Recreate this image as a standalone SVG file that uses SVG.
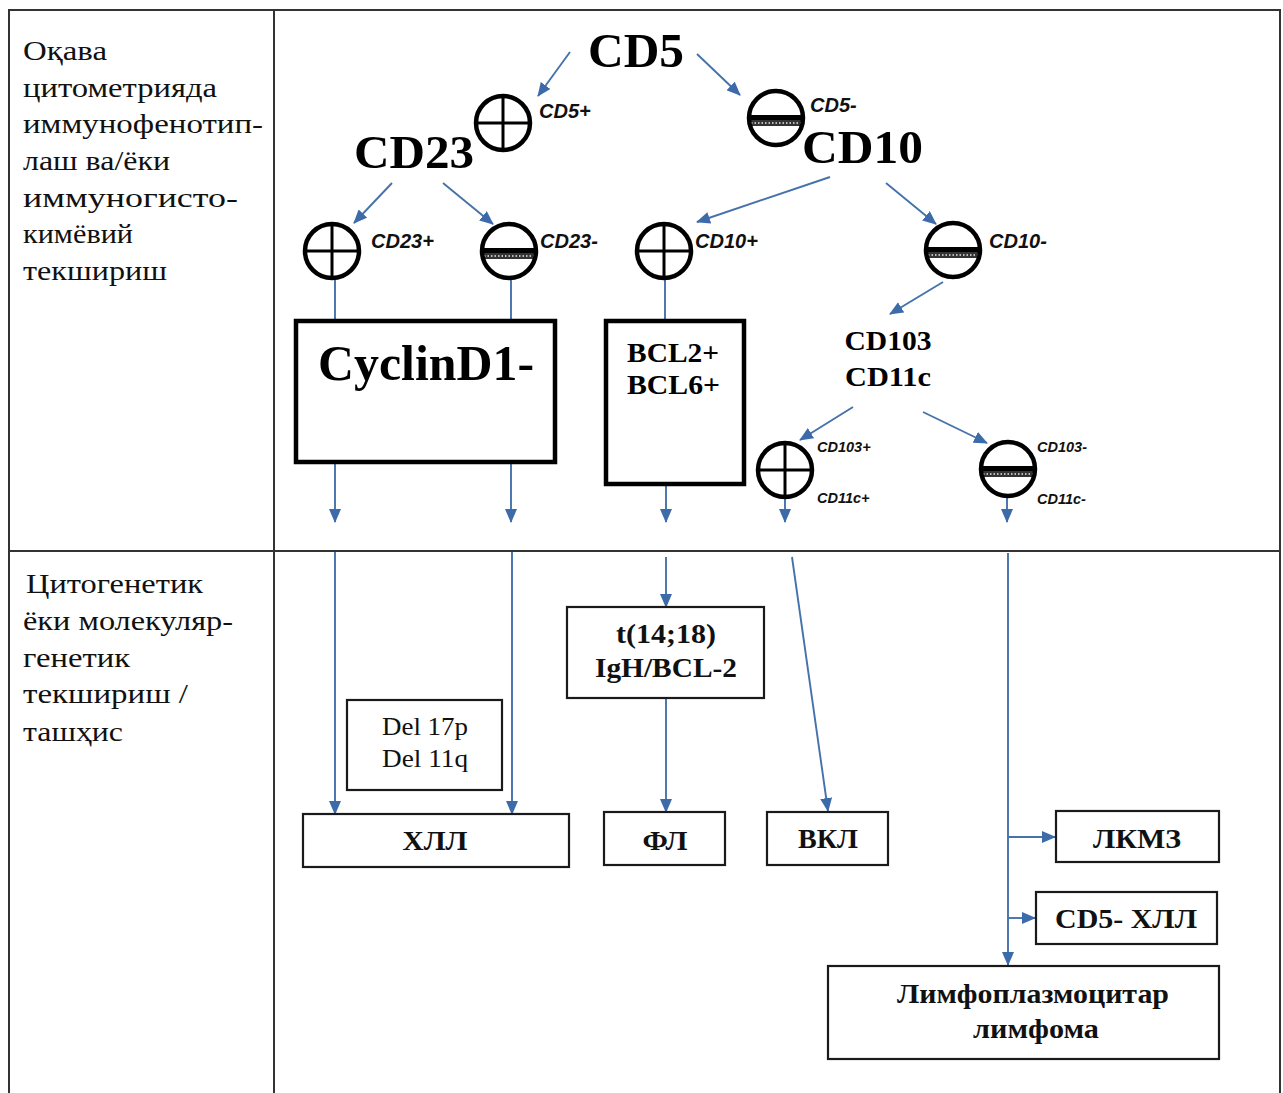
<svg xmlns="http://www.w3.org/2000/svg" width="1283" height="1093" viewBox="0 0 1283 1093">
<style>
.grid{stroke:#333;stroke-width:2;fill:none}
.side{font-family:"Liberation Serif","Times New Roman",serif;font-size:28px;fill:#111}
.big{font-family:"Liberation Serif","Times New Roman",serif;font-weight:bold;fill:#000}
.lbl{font-family:"Liberation Sans",Arial,sans-serif;font-weight:bold;font-style:italic;font-size:20px;fill:#111}
.lbs{font-family:"Liberation Sans",Arial,sans-serif;font-weight:bold;font-style:italic;font-size:14.5px;fill:#111}
.bx{fill:#fff;stroke:#1a1a1a;stroke-width:2.2}
.bxk{fill:#fff;stroke:#000;stroke-width:4.5}
.bt{font-family:"Liberation Serif","Times New Roman",serif;font-weight:bold;font-size:27px;fill:#111;text-anchor:middle}
.rt{font-family:"Liberation Serif","Times New Roman",serif;font-size:25px;fill:#111;text-anchor:middle}
.con line{stroke:#4572aa;stroke-width:1.9;fill:none}
.con .a{marker-end:url(#ah)}
</style>
<defs>
<marker id="ah" viewBox="0 0 14 12" refX="13" refY="6" markerWidth="14" markerHeight="12" markerUnits="userSpaceOnUse" orient="auto">
<path d="M0,0 L14,6 L0,12 z" fill="#3d6baa"/>
</marker>
<g id="plus">
<circle r="27" fill="#fff" stroke="#000" stroke-width="4.5"/>
<line x1="-25" y1="0" x2="25" y2="0" stroke="#000" stroke-width="3"/>
<line x1="0" y1="-25" x2="0" y2="25" stroke="#000" stroke-width="3"/>
</g>
<g id="minus">
<circle r="27" fill="#fff"/>
<rect x="-25" y="-3" width="50" height="5" fill="#000"/>
<rect x="-25" y="2" width="50" height="6" fill="#333"/>
<line x1="-25" y1="5" x2="25" y2="5" stroke="#bbb" stroke-width="2" stroke-dasharray="1.5 2"/>
<circle r="27" fill="none" stroke="#000" stroke-width="4.5"/>
</g>
</defs>
<rect width="1283" height="1093" fill="#fff"/>

<g id="table">
<line class="grid" x1="8" y1="10" x2="1281" y2="10"/>
<line class="grid" x1="9" y1="10" x2="9" y2="1093"/>
<line class="grid" x1="1280" y1="10" x2="1280" y2="1093"/>
<line class="grid" x1="274" y1="10" x2="274" y2="1093"/>
<line class="grid" x1="8" y1="551" x2="1281" y2="551"/>
</g>

<g id="row1-title" class="side">
<text x="23" y="60" textLength="84" lengthAdjust="spacingAndGlyphs">Оқава</text>
<text x="23" y="97" textLength="194" lengthAdjust="spacingAndGlyphs">цитометрияда</text>
<text x="23" y="133" textLength="240" lengthAdjust="spacingAndGlyphs">иммунофенотип-</text>
<text x="23" y="170" textLength="147" lengthAdjust="spacingAndGlyphs">лаш ва/ёки</text>
<text x="23" y="207" textLength="215" lengthAdjust="spacingAndGlyphs">иммуногисто-</text>
<text x="23" y="243" textLength="110" lengthAdjust="spacingAndGlyphs">кимёвий</text>
<text x="23" y="280" textLength="144" lengthAdjust="spacingAndGlyphs">текшириш</text>
</g>
<g id="row2-title" class="side">
<text x="26" y="593" textLength="177" lengthAdjust="spacingAndGlyphs">Цитогенетик</text>
<text x="23" y="630" textLength="210" lengthAdjust="spacingAndGlyphs">ёки молекуляр-</text>
<text x="23" y="667" textLength="107" lengthAdjust="spacingAndGlyphs">генетик</text>
<text x="23" y="703" textLength="165" lengthAdjust="spacingAndGlyphs">текшириш /</text>
<text x="23" y="741" textLength="100" lengthAdjust="spacingAndGlyphs">ташҳис</text>
</g>

<g id="connectors" class="con">
<line class="a" x1="570" y1="52" x2="538" y2="96"/>
<line class="a" x1="697" y1="54" x2="740" y2="95"/>
<line class="a" x1="392" y1="183" x2="354" y2="223"/>
<line class="a" x1="443" y1="183" x2="493" y2="224"/>
<line class="a" x1="830" y1="177" x2="697" y2="222"/>
<line class="a" x1="886" y1="183" x2="936" y2="224"/>
<line class="a" x1="943" y1="282" x2="890" y2="314"/>
<line class="a" x1="853" y1="407" x2="800" y2="440"/>
<line class="a" x1="923" y1="412" x2="987" y2="443"/>
<line x1="335" y1="279" x2="335" y2="321"/>
<line x1="511" y1="279" x2="511" y2="321"/>
<line x1="665" y1="279" x2="665" y2="321"/>
<line class="a" x1="335" y1="462" x2="335" y2="522"/>
<line class="a" x1="511" y1="462" x2="511" y2="522"/>
<line class="a" x1="666" y1="485" x2="666" y2="522"/>
<line class="a" x1="785" y1="498" x2="785" y2="522"/>
<line class="a" x1="1007" y1="496" x2="1007" y2="522"/>
<line class="a" x1="335" y1="552" x2="335" y2="814"/>
<line class="a" x1="512" y1="552" x2="512" y2="814"/>
<line class="a" x1="666" y1="557" x2="666" y2="607"/>
<line class="a" x1="666" y1="699" x2="666" y2="812"/>
<line class="a" x1="792" y1="557" x2="828" y2="811"/>
<line class="a" x1="1008" y1="553" x2="1008" y2="965"/>
<line class="a" x1="1008" y1="837" x2="1055" y2="837"/>
<line class="a" x1="1008" y1="918" x2="1035" y2="918"/>
</g>

<g id="cd5"><text class="big" x="588" y="67" font-size="48" textLength="96" lengthAdjust="spacingAndGlyphs">CD5</text></g>
<g id="cd5pos"><use href="#plus" x="503" y="123"/><text class="lbl" x="539" y="118">CD5+</text></g>
<g id="cd5neg"><use href="#minus" x="776" y="118"/><text class="lbl" x="810" y="112">CD5-</text></g>
<g id="cd23"><text class="big" x="354" y="168" font-size="47" textLength="120" lengthAdjust="spacingAndGlyphs">CD23</text></g>
<g id="cd10"><text class="big" x="802" y="163" font-size="47" textLength="121" lengthAdjust="spacingAndGlyphs">CD10</text></g>
<g id="cd23pos"><use href="#plus" x="332" y="251"/><text class="lbl" x="371" y="248">CD23+</text></g>
<g id="cd23neg"><use href="#minus" x="509" y="251"/><text class="lbl" x="540" y="248">CD23-</text></g>
<g id="cd10pos"><use href="#plus" x="664" y="251"/><text class="lbl" x="695" y="248">CD10+</text></g>
<g id="cd10neg"><use href="#minus" x="953" y="250"/><text class="lbl" x="989" y="248">CD10-</text></g>
<g id="cd103"><text class="big" x="888" y="350" font-size="27" text-anchor="middle" textLength="87" lengthAdjust="spacingAndGlyphs">CD103</text><text class="big" x="888" y="386" font-size="27" text-anchor="middle" textLength="86" lengthAdjust="spacingAndGlyphs">CD11c</text></g>
<g id="cyclin"><rect class="bxk" x="296" y="321" width="259" height="141"/><text class="big" x="318" y="380" font-size="50" textLength="216" lengthAdjust="spacingAndGlyphs">CyclinD1-</text></g>
<g id="bcl"><rect class="bxk" x="606" y="321" width="138" height="163"/><text class="big" x="627" y="362" font-size="28" textLength="92" lengthAdjust="spacingAndGlyphs">BCL2+</text><text class="big" x="627" y="394" font-size="28" textLength="93" lengthAdjust="spacingAndGlyphs">BCL6+</text></g>
<g id="cd103pos"><use href="#plus" x="785" y="470"/><text class="lbs" x="817" y="452">CD103+</text><text class="lbs" x="817" y="503">CD11c+</text></g>
<g id="cd103neg"><use href="#minus" x="1008" y="469"/><text class="lbs" x="1037" y="452">CD103-</text><text class="lbs" x="1037" y="504">CD11c-</text></g>

<g id="del"><rect class="bx" x="347" y="700" width="155" height="90"/><text class="rt" x="425" y="735" textLength="86" lengthAdjust="spacingAndGlyphs">Del 17p</text><text class="rt" x="425" y="767" textLength="86" lengthAdjust="spacingAndGlyphs">Del 11q</text></g>
<g id="t1418"><rect class="bx" x="567" y="607" width="197" height="91"/><text class="bt" x="666" y="643" font-size="29" textLength="100" lengthAdjust="spacingAndGlyphs">t(14;18)</text><text class="bt" x="666" y="677" font-size="29" textLength="142" lengthAdjust="spacingAndGlyphs">IgH/BCL-2</text></g>
<g id="hll"><rect class="bx" x="303" y="814" width="266" height="53"/><text class="bt" x="435" y="850" textLength="65" lengthAdjust="spacingAndGlyphs">ХЛЛ</text></g>
<g id="fl"><rect class="bx" x="604" y="812" width="121" height="53"/><text class="bt" x="665" y="850" textLength="45" lengthAdjust="spacingAndGlyphs">ФЛ</text></g>
<g id="vkl"><rect class="bx" x="767" y="812" width="121" height="53"/><text class="bt" x="828" y="848" textLength="60" lengthAdjust="spacingAndGlyphs">ВКЛ</text></g>
<g id="lkmz"><rect class="bx" x="1056" y="811" width="163" height="51"/><text class="bt" x="1137" y="848" textLength="88" lengthAdjust="spacingAndGlyphs">ЛКМЗ</text></g>
<g id="cd5hll"><rect class="bx" x="1036" y="892" width="181" height="52"/><text class="bt" x="1126" y="928" textLength="142" lengthAdjust="spacingAndGlyphs">CD5- ХЛЛ</text></g>
<g id="lpl"><rect class="bx" x="828" y="966" width="391" height="93"/><text class="bt" x="1033" y="1003" textLength="272" lengthAdjust="spacingAndGlyphs">Лимфоплазмоцитар</text><text class="bt" x="1036" y="1038" textLength="126" lengthAdjust="spacingAndGlyphs">лимфома</text></g>
</svg>
